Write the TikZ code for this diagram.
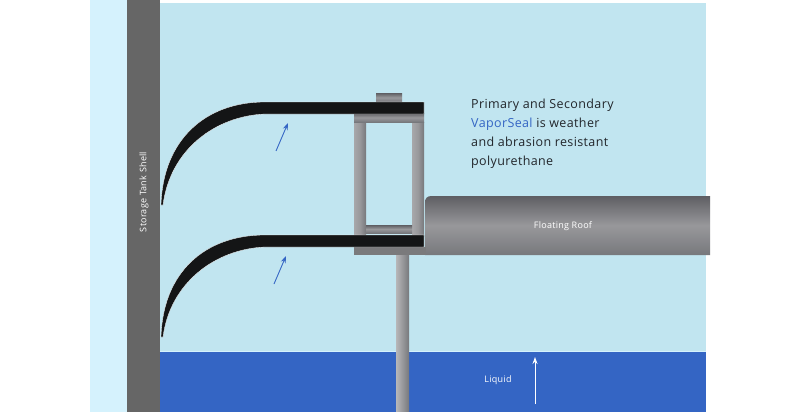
\documentclass[tikz,border=0pt]{standalone}
\usepackage{fontspec}
\setmainfont[LetterSpace=3]{Open Sans}
\usetikzlibrary{arrows.meta,positioning}
\definecolor{paleband}{HTML}{D5F2FD}
\definecolor{airblue}{HTML}{C1E5F0}
\definecolor{shellgrey}{HTML}{666666}
\definecolor{liquidblue}{HTML}{3465C4}
\definecolor{sealblack}{HTML}{141516}
\definecolor{steeldark}{HTML}{5E5E63}
\definecolor{steelmid}{HTML}{98989B}
\definecolor{steellow}{HTML}{77787C}
\definecolor{inktext}{HTML}{22262B}
\tikzset{
  postbar/.style={left color=steelmid!85!white,right color=steellow,middle color=steelmid},
  flatbar/.style={top color=steeldark,bottom color=steellow,middle color=steelmid},
  sealshape/.style={fill=sealblack,draw=white,line width=0.3pt},
  flowarrow/.style={-{Stealth[length=7pt,width=5pt]},liquidblue,line width=0.9pt},
  whitelabel/.style={text=white,font=\fontsize{9}{11}\selectfont},
}
\begin{document}
\begin{tikzpicture}[x=1pt,y=-1pt]
  \useasboundingbox (0,0) rectangle (800,412);
  \fill[white] (0,0) rectangle (800,412);
  \fill[paleband] (90,0) rectangle (127,412);
  \fill[airblue] (160,3) rectangle (706,351);
  \fill[liquidblue] (160,352) rectangle (706,412);
  \fill[paleband] (160,351) rectangle (706,352);
  \fill[shellgrey] (127,0) rectangle (160,412);
  % stem
  \shade[left color=steelmid!70!white,right color=steellow,middle color=steelmid] (396,255) rectangle (409,412);
  % frame
  \shade[postbar] (354,122) rectangle (366,236);
  \shade[postbar] (412,122) rectangle (424,236);
  \shade[flatbar] (366,225) rectangle (412,233);
  \shade[flatbar] (354,113) rectangle (424,122);
  \shade[flatbar] (376,93) rectangle (402,102);
  % roof
  \shade[top color=steeldark,bottom color=steellow,middle color=steelmid]
    (425,255) -- (425,203) .. controls (425,198) and (427,196) .. (432,196) -- (710,196) -- (710,255) -- cycle;
  \fill[steelmid!80!black] (354,247) rectangle (426,255);
  % upper seal
  \draw[sealshape] (161,205) .. controls (163,140) and (205,102) .. (265,102) -- (424,102)
    -- (424,114) -- (265,114) .. controls (215,116) and (170,150) .. (163,205) -- cycle;
  % lower seal
  \draw[sealshape] (161,337) .. controls (163,272) and (205,235) .. (265,235) -- (424,235)
    -- (424,247) -- (265,247) .. controls (215,249) and (170,283) .. (163,337) -- cycle;
  % arrows
  \coordinate (upperfoot) at (276,151);
  \coordinate (uppertip) at (288,123);
  \coordinate (lowerfoot) at (274,284);
  \coordinate (lowertip) at (286,256);
  \coordinate (liquidfoot) at (535,404);
  \coordinate (liquidtip) at (535,357);
  \draw[flowarrow] (upperfoot) -- (uppertip);
  \draw[flowarrow] (lowerfoot) -- (lowertip);
  \draw[flowarrow,white] (liquidfoot) -- (liquidtip);
  % labels
  \node[whitelabel,rotate=90] (shelllabel) at (144,192) {Storage Tank Shell};
  \node[whitelabel] (rooflabel) at (563,226) {Floating Roof};
  \node[whitelabel] (liquidlabel) at (498,380) {Liquid};
  \node[anchor=north west,inner sep=0pt,align=left,text=inktext,font=\fontsize{12.5}{19}\selectfont] (seallabel) at (471,99)
    {Primary and Secondary\\\textcolor{liquidblue}{VaporSeal} is weather\\and abrasion resistant\\polyurethane};
\end{tikzpicture}
\end{document}
